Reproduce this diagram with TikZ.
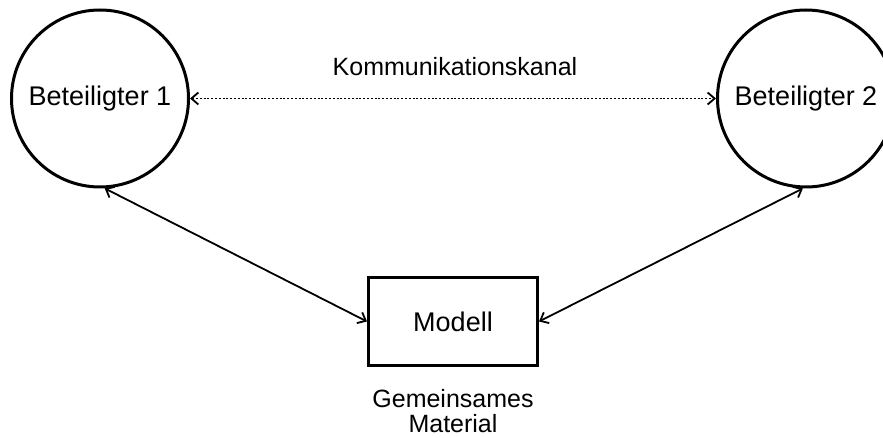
\documentclass[tikz,border=0pt]{standalone}
\usepackage{fontspec}
\setmainfont{Liberation Sans}
\usetikzlibrary{arrows.meta}
\begin{document}
\begin{tikzpicture}[x=1pt, y=-1pt,
  party/.style={draw, circle, line width=3pt, inner sep=0pt,
    minimum size=177pt, font=\fontsize{27}{30}\selectfont},
  modelbox/.style={draw, rectangle, line width=3pt, inner sep=0pt,
    minimum width=169pt, minimum height=88pt, font=\fontsize{27}{30}\selectfont},
  caption/.style={inner sep=0pt, align=center, font=\fontsize{25}{25}\selectfont},
  link/.style={line width=1.8pt, {Straight Barb[length=7pt,width=12pt]}-{Straight Barb[length=7pt,width=12pt]}},
  channel/.style={link, dash pattern=on 2pt off 1.8pt}
]
  \clip (0,0) rectangle (883,438);
  \useasboundingbox (0,0) rectangle (883,438);

  % participants and the shared model
  \node[party] (b1) at (100,98.5) {Beteiligter 1};
  \node[party] (b2) at (806,98.5) {Beteiligter 2};
  \node[modelbox] (model) at (453,321.5) {Modell};

  % labels
  \node[caption, anchor=base] (chanlabel) at (455,76) {Kommunikationskanal};
  \node[caption, anchor=north] (matlabel) at (453,389.5) {Gemeinsames\\Material};

  % connectors
  \draw[channel] (b1.east) -- (b2.west);
  \draw[link] (b1.-87) -- (model.west);
  \draw[link] (b2.-92) -- (model.east);
\end{tikzpicture}
\end{document}
